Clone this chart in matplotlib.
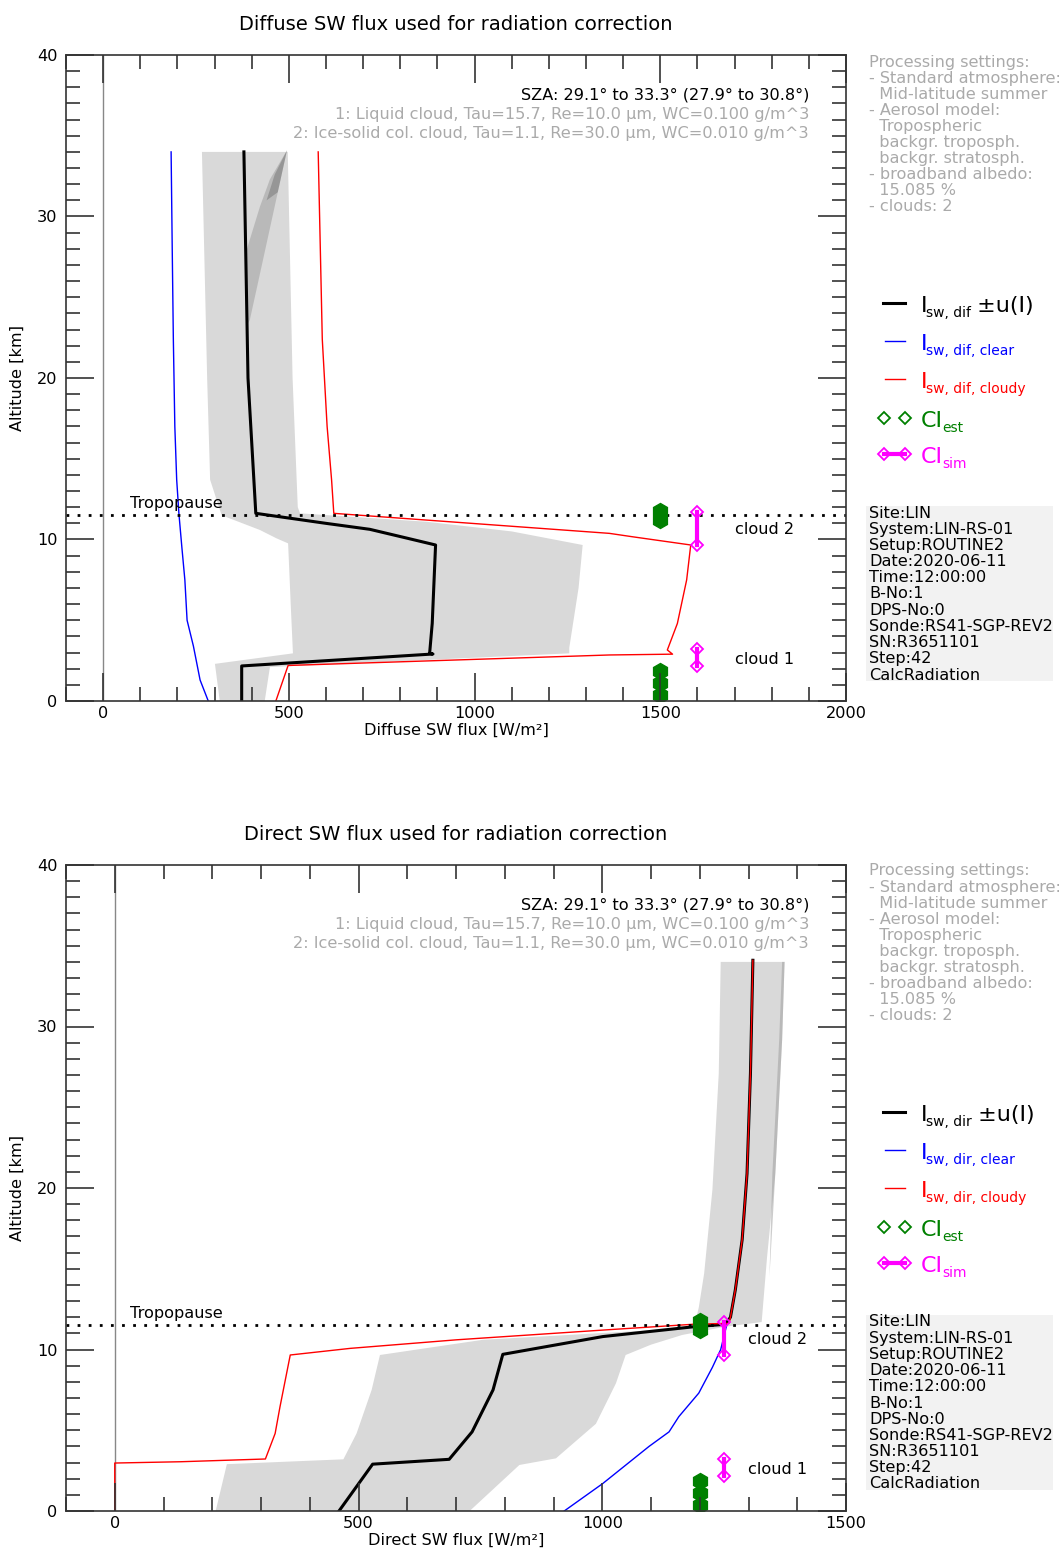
import matplotlib
matplotlib.use("Agg")
import matplotlib.pyplot as plt
import matplotlib.transforms as mtransforms
from matplotlib.lines import Line2D
from matplotlib.patches import Rectangle
from matplotlib.ticker import MultipleLocator

W, H, DPI = 1063, 1549, 100
FS = 11.6

#%% profiles, diffuse SW (altitude in km, flux in W/m2)

dif_alt = [34.0, 20.0, 11.62, 11.0, 10.63, 10.1, 9.66, 4.81, 2.95, 2.91, 2.17, 0.0]
dif_flux = [379, 390, 411, 600, 718, 815, 895, 886, 879, 888, 373, 373]

dif_clear_alt = [34.0, 28.0, 22.4, 17.0, 13.7, 11.6, 9.5, 7.5, 5.0, 3.4, 2.35, 1.3, 0.0]
dif_clear_flux = [183, 186, 189, 193, 198, 204, 212, 220, 226, 243, 252, 261, 283]

dif_cloudy_alt = [34.0, 22.4, 17.0, 13.7, 11.62, 10.38, 10.17, 9.66, 7.5, 4.8, 3.16, 2.9, 2.85, 2.2, 0.0]
dif_cloudy_flux = [579, 590, 603, 615, 621, 1363, 1425, 1582, 1571, 1546, 1519, 1533, 1363, 498, 465]

# envelope of the perturbed runs, outline of the shaded area
dif_band_flux = [266, 497, 510, 524, 530, 870, 1100, 1291, 1280, 1255, 1255, 449, 435,
                 314, 301, 511, 505, 498, 467, 422, 319, 288, 280]
dif_band_alt = [34.0, 34.0, 20.0, 12.0, 11.62, 11.1, 10.5, 9.66, 7.0, 3.3, 2.95, 2.1, 0.0,
                0.0, 2.3, 2.95, 6.0, 9.76, 10.07, 10.59, 11.5, 13.7, 20.0]
# denser part of the runs above the tropopause
dif_dense_flux = [495, 449, 422, 386, 386, 395]
dif_dense_alt = [34.1, 32.3, 30.6, 27.9, 23.2, 23.6]
dif_core_flux = [495, 462, 440, 470]
dif_core_alt = [34.1, 32.6, 31.0, 31.5]

#%% profiles, direct SW

dir_flux = [1309, 1304, 1297, 1287, 1273, 1263, 1253, 1185, 1001, 796, 776, 733, 686, 529, 460]
dir_alt = [34.1, 27.1, 20.9, 16.8, 13.7, 12.0, 11.56, 11.4, 10.8, 9.7, 7.5, 4.9, 3.2, 2.9, 0.0]

dir_clear_flux = [1309, 1304, 1297, 1287, 1273, 1263, 1256, 1243, 1226, 1198, 1157, 1137, 1096, 1001, 922]
dir_clear_alt = [34.1, 27.1, 20.9, 16.8, 13.7, 12.0, 11.6, 10.0, 8.9, 7.3, 5.84, 4.9, 4.0, 1.7, 0.0]

dir_cloudy_flux = [1309, 1304, 1297, 1287, 1273, 1263, 1260, 1185, 1000, 701, 483, 360, 339, 329, 309, 135, 0, 0]
dir_cloudy_alt = [34.1, 27.1, 20.9, 16.8, 13.7, 12.0, 11.62, 11.56, 11.2, 10.6, 10.07, 9.66, 6.46, 4.8, 3.22, 3.05, 2.97, 0.0]

dir_band_flux = [1243, 1374, 1369, 1355, 1338, 1327, 1250, 1164, 1100, 1048, 1028, 987, 905, 830, 728,
                 207, 230, 469, 496, 527, 544, 755, 1164, 1190, 1198, 1209, 1226, 1239]
dir_band_alt = [34.0, 34.0, 29.2, 20.9, 15.7, 11.7, 11.4, 10.9, 10.3, 9.66, 7.9, 5.4, 3.26, 2.85, 0.0,
                0.0, 2.9, 3.2, 4.8, 7.5, 9.66, 10.6, 11.3, 11.6, 12.6, 14.7, 19.9, 27.1]
dir_dense_flux = [1374, 1369, 1355, 1343, 1349, 1363, 1369]
dir_dense_alt = [34.0, 29.2, 20.9, 14.5, 20.9, 29.2, 34.0]

#%% cloud boundaries

tropopause = 11.5
est_alt = [11.75, 11.2, 1.85, 1.1, 0.35]
sim_cloud2 = [9.66, 11.68]
sim_cloud1 = [2.15, 3.2]
cloud_label_alt = [10.6, 2.6]

#%% annotations

sza_line = "SZA: 29.1° to 33.3° (27.9° to 30.8°)"
cloud_lines = ["1: Liquid cloud, Tau=15.7, Re=10.0 µm, WC=0.100 g/m^3",
               "2: Ice-solid col. cloud, Tau=1.1, Re=30.0 µm, WC=0.010 g/m^3"]

settings = ["Processing settings:", "- Standard atmosphere:", "  Mid-latitude summer",
            "- Aerosol model:", "  Tropospheric", "  backgr. troposph.",
            "  backgr. stratosph.", "- broadband albedo:", "  15.085 %", "- clouds: 2"]

site_info = ["Site:LIN", "System:LIN-RS-01", "Setup:ROUTINE2", "Date:2020-06-11",
             "Time:12:00:00", "B-No:1", "DPS-No:0", "Sonde:RS41-SGP-REV2",
             "SN:R3651101", "Step:42", "CalcRadiation"]

GRAY_TXT = '#aaaaaa'
GREEN = '#008000'
MAGENTA = '#ff00ff'


def fx(px):
    return px / W


def fy(py):
    return 1 - py / H


def key_label(x, y, parts, color):
    """ text pieces written one after another: (text, size, shift down in px) """
    rend = fig.canvas.get_renderer()
    for s, size, dy in parts:
        t = fig.text(fx(x), fy(y + dy), s, fontsize=size, color=color,
                     va='baseline', ha='left')
        x = t.get_window_extent(rend).x1 - 1


def draw_panel(ax, d, y0):
    ax.set_xlim(-100, d['xmax'])
    ax.set_ylim(0, 40)

    ax.axvline(0, color='#888888', lw=1.0, zorder=0.5)
    ax.fill(d['band'][0], d['band'][1], color='#d9d9d9', lw=0, zorder=1)
    ax.fill(d['dense'][0], d['dense'][1], color='#9a9a9a', alpha=0.5, lw=0, zorder=1.1)
    if d.get('core'):
        ax.fill(d['core'][0], d['core'][1], color='#555555', alpha=0.35, lw=0, zorder=1.2)

    ax.plot(d['clear'][0], d['clear'][1], color='#0000ff', lw=1.0, zorder=2.0)
    ax.plot(d['main'][0], d['main'][1], color='black', lw=2.2, zorder=2.1)
    ax.plot(d['cloudy'][0], d['cloudy'][1], color='#ff0000', lw=1.0, zorder=2.2)

    ax.axhline(tropopause, color='black', lw=2.0, ls=(0, (1, 3)), zorder=2.3)
    trans = mtransforms.blended_transform_factory(ax.transAxes, ax.transData)
    ax.text(0.082, tropopause + 0.25, 'Tropopause', transform=trans,
            fontsize=FS, va='bottom', ha='left')

    # estimated / simulated cloud boundaries
    ax.plot([d['est_x']] * len(est_alt), est_alt, ls='none', marker='h', ms=11.5,
            color=GREEN, mec=GREEN, zorder=2.4)
    for seg in (sim_cloud2, sim_cloud1):
        ax.plot([d['sim_x']] * 2, seg, color=MAGENTA, lw=3.0, marker='D', ms=6.5,
                mfc='none', mec=MAGENTA, mew=1.3, zorder=2.4)
    for n, a in zip(('cloud 2', 'cloud 1'), cloud_label_alt):
        ax.text(d['label_x'], a, n, fontsize=FS, va='center', ha='left')

    ax.text(0.9526, 37.5 / 40, sza_line, transform=ax.transAxes, ha='right',
            va='center', fontsize=FS)
    for i, s in enumerate(cloud_lines):
        ax.text(0.9526, (36.3 - 1.18 * i) / 40, s, transform=ax.transAxes,
                ha='right', va='center', fontsize=FS, color=GRAY_TXT)

    ax.set_axisbelow(False)
    ax.xaxis.set_major_locator(MultipleLocator(500))
    ax.xaxis.set_minor_locator(MultipleLocator(100))
    ax.yaxis.set_major_locator(MultipleLocator(10))
    ax.yaxis.set_minor_locator(MultipleLocator(1))
    ax.tick_params(which='both', direction='in', top=True, right=True,
                   color='#333333', width=1.2, labelsize=FS)
    ax.tick_params(which='major', length=20)
    ax.tick_params(which='minor', length=10)
    ax.tick_params(axis='y', pad=6)
    for sp in ax.spines.values():
        sp.set_color('#333333')
        sp.set_linewidth(1.2)

    ax.set_xlabel(d['xlabel'], fontsize=FS, labelpad=1.5)
    ax.set_ylabel('Altitude [km]', fontsize=FS, labelpad=9)
    ax.set_title(d['title'], fontsize=14, pad=18)

    # processing settings
    for i, s in enumerate(settings):
        fig.text(fx(869), fy(62 + 16.1 * i + y0), s, fontsize=FS, color=GRAY_TXT,
                 va='center', ha='left')

    # legend
    k = d['key']
    rows = [303, 341, 379, 418, 454]
    labels = [[('I', 16, 0), ('sw, ' + k, 10, 5), (' ±u(I)', 16, 0)],
              [('I', 16, 0), ('sw, %s, clear' % k, 10, 5)],
              [('I', 16, 0), ('sw, %s, cloudy' % k, 10, 5)],
              [('CI', 16, 0), ('est', 10, 5)],
              [('CI', 16, 0), ('sim', 10, 5)]]
    colors = ['black', '#0000ff', '#ff0000', GREEN, MAGENTA]
    r = [fy(v + y0) for v in rows]
    fig.add_artist(Line2D([fx(883), fx(905)], [r[0]] * 2, color='black', lw=2.2))
    fig.add_artist(Line2D([fx(885), fx(905)], [r[1]] * 2, color='#0000ff', lw=1.0))
    fig.add_artist(Line2D([fx(885), fx(905)], [r[2]] * 2, color='#ff0000', lw=1.0))
    fig.add_artist(Line2D([fx(884), fx(905)], [r[3]] * 2, ls='none', marker='D', ms=6.5,
                          mfc='none', mec=GREEN, mew=1.3))
    fig.add_artist(Line2D([fx(884), fx(905)], [r[4]] * 2, color=MAGENTA, lw=3.0,
                          marker='D', ms=6.5, mfc='none', mec=MAGENTA, mew=1.3))
    for yy, parts, c in zip(rows, labels, colors):
        key_label(921, yy + y0 + 9, parts, c)

    # sounding info box
    fig.add_artist(Rectangle((fx(866), fy(681 + y0)), (1053 - 866) / W, 175 / H,
                             transform=fig.transFigure, fc='#f2f2f2', ec='none',
                             zorder=0))
    for i, s in enumerate(site_info):
        fig.text(fx(869), fy(513 + 16.2 * i + y0), s, fontsize=FS, va='center',
                 ha='left', zorder=1)


#%% figure

fig = plt.figure(figsize=(W / DPI, H / DPI), dpi=DPI)

ax1 = fig.add_axes([fx(66), fy(701), (846 - 66) / W, (701 - 55) / H])
ax2 = fig.add_axes([fx(66), fy(1511), (846 - 66) / W, (1511 - 865) / H])

draw_panel(ax1, dict(xmax=2000, key='dif', est_x=1500, sim_x=1600, label_x=1700,
                     main=(dif_flux, dif_alt), clear=(dif_clear_flux, dif_clear_alt),
                     cloudy=(dif_cloudy_flux, dif_cloudy_alt),
                     band=(dif_band_flux, dif_band_alt),
                     dense=(dif_dense_flux, dif_dense_alt),
                     core=(dif_core_flux, dif_core_alt),
                     title='Diffuse SW flux used for radiation correction',
                     xlabel='Diffuse SW flux [W/m²]'), 0)

draw_panel(ax2, dict(xmax=1500, key='dir', est_x=1200, sim_x=1250, label_x=1300,
                     main=(dir_flux, dir_alt), clear=(dir_clear_flux, dir_clear_alt),
                     cloudy=(dir_cloudy_flux, dir_cloudy_alt),
                     band=(dir_band_flux, dir_band_alt),
                     dense=(dir_dense_flux, dir_dense_alt),
                     title='Direct SW flux used for radiation correction',
                     xlabel='Direct SW flux [W/m²]'), 809)

fig.savefig('out.png', dpi=DPI)
